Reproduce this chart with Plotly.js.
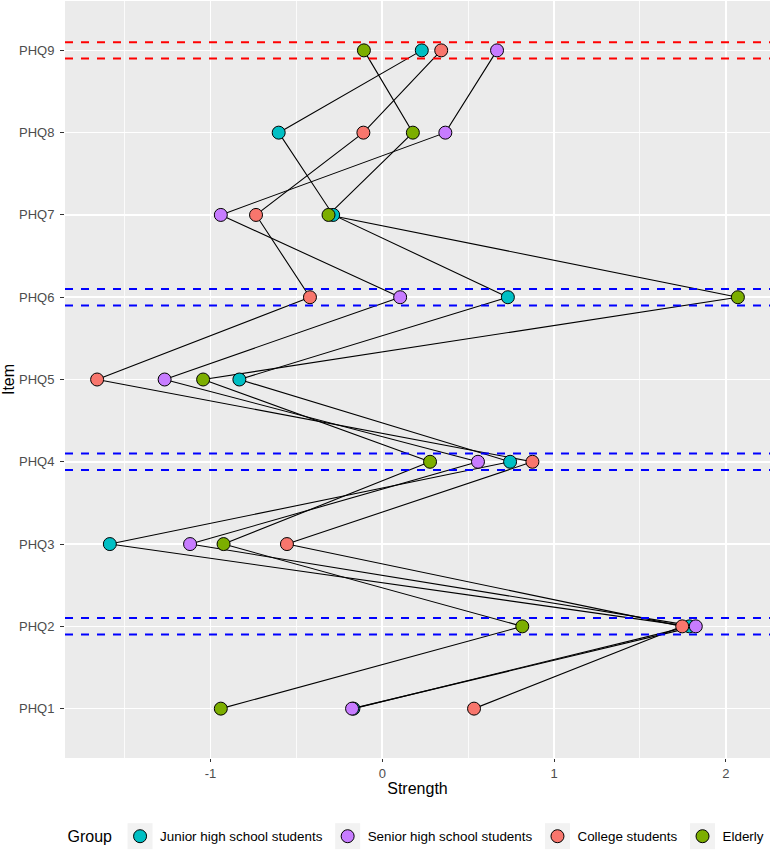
<!DOCTYPE html>
<html>
<head>
<meta charset="utf-8">
<script src="https://cdn.plot.ly/plotly-3.0.1.min.js"></script>
<style>html,body{margin:0;padding:0;background:#fff;}#chart{width:772px;height:852px;}</style>
</head>
<body>
<div id="chart"></div>
<script>
const items = ['PHQ1','PHQ2','PHQ3','PHQ4','PHQ5','PHQ6','PHQ7','PHQ8','PHQ9'];
const groups = ['Junior high school students','Senior high school students','College students','Elderly'];
const groupColors = ['#00BFC4','#C77CFF','#F8766D','#7CAE00'];
const junior  = [-0.168, 1.788, -1.586, 0.744, -0.832, 0.731, -0.286, -0.603, 0.230];
const senior  = [-0.176, 1.825, -1.119, 0.557, -1.267, 0.104, -0.940, 0.367, 0.668];
const college = [ 0.534, 1.746, -0.555, 0.874, -1.660, -0.421, -0.735, -0.110, 0.343];
const elderly = [-0.940, 0.815, -0.924, 0.278, -1.043, 2.070, -0.313, 0.178, -0.107];
const seriesValues = [junior, senior, college, elderly];
const highlightItems = ['PHQ9','PHQ6','PHQ4','PHQ2'];
const highlightColors = ['#FF0000','#0000FF','#0000FF','#0000FF'];
const highlightHalfWidth = 0.1;
const xTicks = [-1, 0, 1, 2];

const FONT = 'Liberation Sans, Arial, sans-serif';
const traces = [];
seriesValues.forEach((vals, i) => {
  traces.push({
    type: 'scatter', mode: 'lines', x: vals, y: items, showlegend: false,
    line: {color: '#000000', width: 1.1}, hoverinfo: 'skip'
  });
});
seriesValues.forEach((vals, i) => {
  traces.push({
    type: 'scatter', mode: 'markers', x: vals, y: items, name: groups[i],
    marker: {color: groupColors[i], size: 13, line: {color: '#000000', width: 1}}
  });
});

const shapes = [];
highlightItems.forEach((it, k) => {
  const idx = items.indexOf(it);
  [-1, 1].forEach(s => {
    shapes.push({
      type: 'line', xref: 'paper', x0: 0, x1: 1, yref: 'y',
      y0: idx + s * highlightHalfWidth, y1: idx + s * highlightHalfWidth,
      line: {color: highlightColors[k], width: 2, dash: '8px,8px'}, layer: 'above'
    });
  });
});

const layout = {
  width: 772, height: 852,
  margin: {l: 65, r: 2, t: 1, b: 93},
  paper_bgcolor: '#FFFFFF', plot_bgcolor: '#EBEBEB',
  font: {family: FONT, color: '#000000'},
  showlegend: true,
  legend: {
    orientation: 'h', x: 0.5, xanchor: 'center', y: -0.103, yanchor: 'middle',
    bgcolor: 'rgba(0,0,0,0)',
    font: {family: FONT, size: 13.4, color: '#000000'},
    title: {text: 'Group', side: 'left', font: {family: FONT, size: 16, color: '#000000'}},
    itemwidth: 30
  },
  xaxis: {
    range: [-1.847, 2.257], tickvals: xTicks, ticktext: xTicks.map(String),
    showgrid: true, gridcolor: '#FFFFFF', gridwidth: 1.6,
    minor: {dtick: 0.5, showgrid: true, gridcolor: '#FFFFFF', gridwidth: 0.8},
    zeroline: false, showline: false,
    ticks: 'outside', ticklen: 3, tickwidth: 1, tickcolor: '#333333',
    tickfont: {family: FONT, size: 13, color: '#4D4D4D'},
    title: {text: 'Strength', font: {family: FONT, size: 16, color: '#000000'}, standoff: 3}
  },
  yaxis: {
    type: 'category', categoryorder: 'array', categoryarray: items,
    range: [-0.6, 8.6],
    showgrid: true, gridcolor: '#FFFFFF', gridwidth: 1.6,
    zeroline: false, showline: false,
    ticks: 'outside', ticklen: 4, tickwidth: 1, tickcolor: '#333333',
    ticklabelstandoff: 3,
    tickfont: {family: FONT, size: 13, color: '#4D4D4D'},
    title: {text: 'Item', font: {family: FONT, size: 16, color: '#000000'}, standoff: 4}
  },
  shapes: shapes
};
Plotly.newPlot('chart', traces, layout, {staticPlot: true}).then(gd => {
  // grey legend-key backgrounds behind each legend symbol
  const fl = gd._fullLayout;
  const svgRect = gd.querySelector('.main-svg').getBoundingClientRect();
  const extra = [];
  gd.querySelectorAll('.legend .traces .legendpoints').forEach(pt => {
    const r = pt.getBoundingClientRect();
    const cx = r.left + r.width / 2 - svgRect.left;
    const cy = r.top + r.height / 2 - svgRect.top;
    const toPX = px => (px - fl._size.l) / fl._size.w;
    const toPY = py => 1 - (py - fl._size.t) / fl._size.h;
    extra.push({
      type: 'rect', xref: 'paper', yref: 'paper', layer: 'above',
      x0: toPX(cx - 12.5), x1: toPX(cx + 12.5), y0: toPY(cy + 13), y1: toPY(cy - 13),
      fillcolor: '#F2F2F2', line: {width: 0}
    });
  });
  return Plotly.relayout(gd, {shapes: shapes.concat(extra)});
});
</script>
</body>
</html>
